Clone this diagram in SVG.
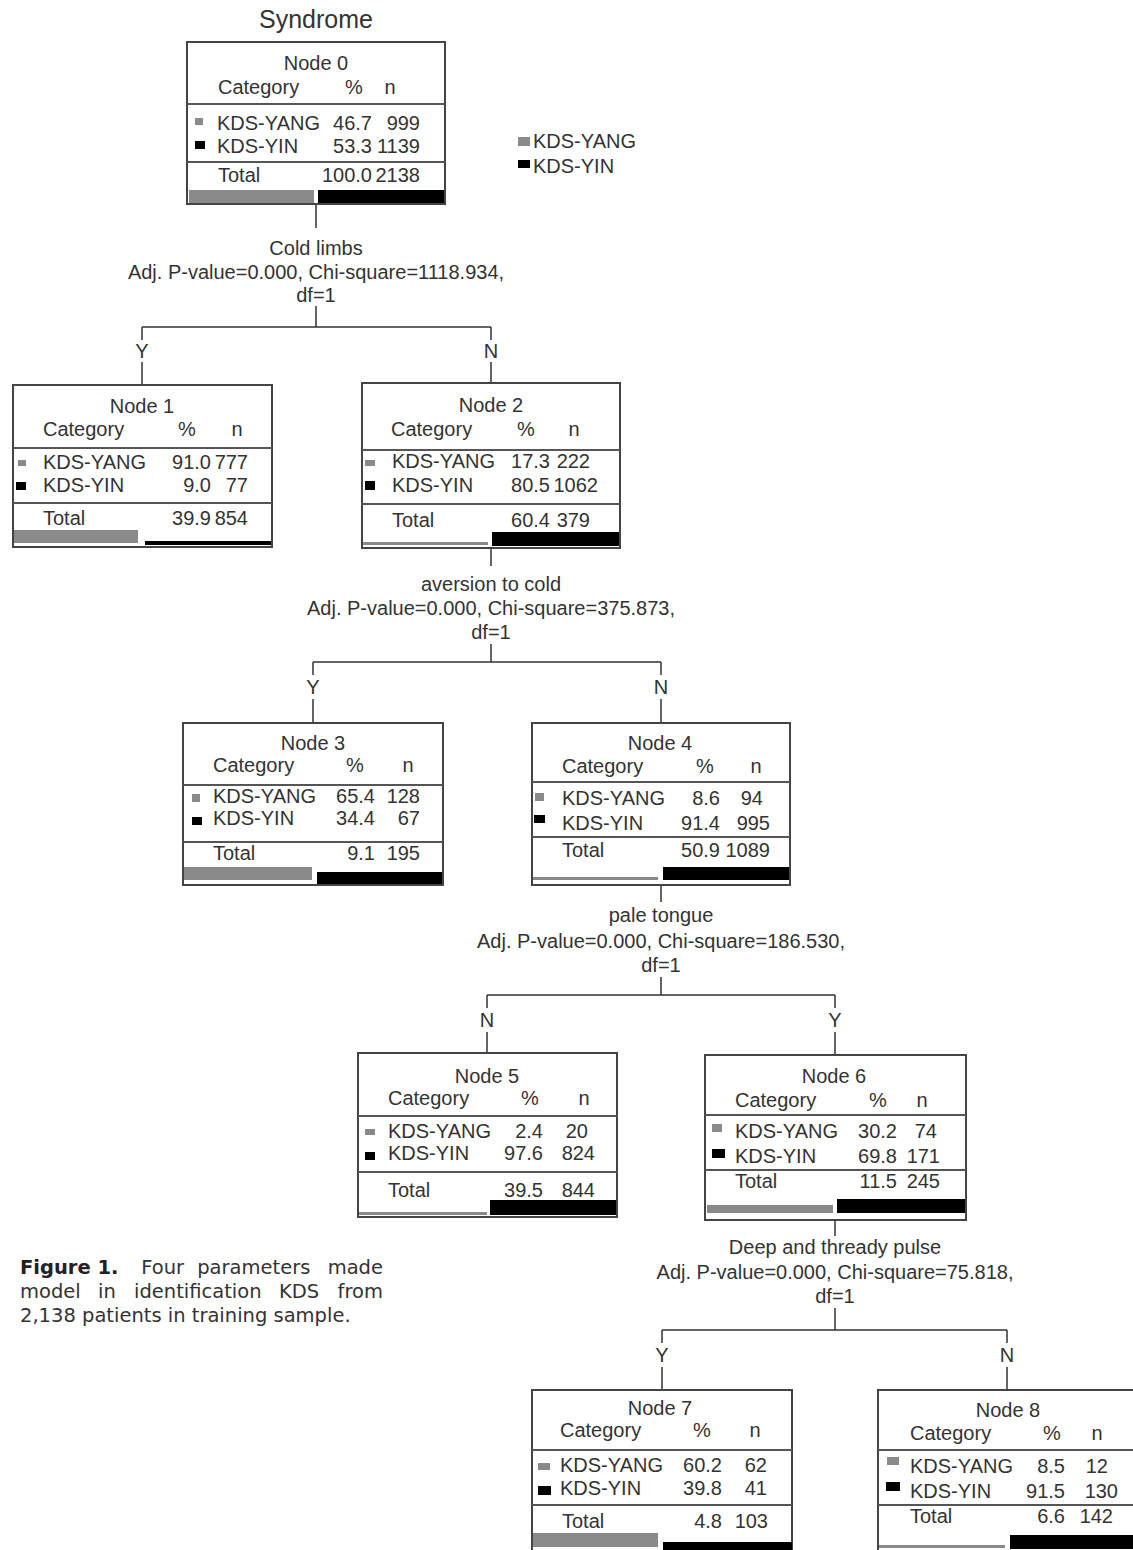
<svg xmlns="http://www.w3.org/2000/svg" width="1133" height="1550" viewBox="0 0 1133 1550">
<style>
.t{font-family:"Liberation Sans",Arial,sans-serif;font-size:20px;fill:#333}
.c{text-anchor:middle}
.r{text-anchor:end}
.box{fill:#fff;stroke:#444;stroke-width:2}
.sep{stroke:#555;stroke-width:2}
.conn{stroke:#333;stroke-width:1.5;fill:none}
.gy{fill:#8a8a8a}
.bk{fill:#000}
.cap{font-family:"DejaVu Sans","Liberation Sans",sans-serif;font-size:19.5px;fill:#333}
.capb{font-weight:bold;fill:#222}
</style>
<rect width="1133" height="1550" fill="#fff"/>
<text class="t c" x="316" y="28" style="font-size:25px">Syndrome</text>
<g id="legend">
<rect class="gy" x="518" y="137" width="12" height="9"/>
<text class="t" x="533" y="148">KDS-YANG</text>
<rect class="bk" x="518" y="160" width="12" height="8"/>
<text class="t" x="533" y="173">KDS-YIN</text>
</g>
<g id="connectors">
<path class="conn" d="M316 204V228M316 306V327M142 327H491M142 327V340M491 327V340M142 362V385M491 362V383"/>
<text class="t c" x="316" y="255">Cold limbs</text>
<text class="t c" x="316" y="279">Adj. P-value=0.000, Chi-square=1118.934,</text>
<text class="t c" x="316" y="302">df=1</text>
<text class="t c" x="142" y="358">Y</text>
<text class="t c" x="491" y="358">N</text>
<path class="conn" d="M491 548V566M491 644V662M313 662H661M313 662V675M661 662V675M313 699V723M661 699V723"/>
<text class="t c" x="491" y="591">aversion to cold</text>
<text class="t c" x="491" y="615">Adj. P-value=0.000, Chi-square=375.873,</text>
<text class="t c" x="491" y="639">df=1</text>
<text class="t c" x="313" y="694">Y</text>
<text class="t c" x="661" y="694">N</text>
<path class="conn" d="M661 885V902M661 977V995M487 995H835M487 995V1008M835 995V1008M487 1032V1053M835 1032V1055"/>
<text class="t c" x="661" y="922">pale tongue</text>
<text class="t c" x="661" y="948">Adj. P-value=0.000, Chi-square=186.530,</text>
<text class="t c" x="661" y="972">df=1</text>
<text class="t c" x="487" y="1027">N</text>
<text class="t c" x="835" y="1027">Y</text>
<path class="conn" d="M835 1220V1236M835 1308V1330M662 1330H1007M662 1330V1343M1007 1330V1343M662 1367V1390M1007 1367V1390"/>
<text class="t c" x="835" y="1254">Deep and thready pulse</text>
<text class="t c" x="835" y="1279">Adj. P-value=0.000, Chi-square=75.818,</text>
<text class="t c" x="835" y="1303">df=1</text>
<text class="t c" x="662" y="1362">Y</text>
<text class="t c" x="1007" y="1362">N</text>
</g>
<g id="node0">
<rect class="box" x="187" y="42" width="258" height="162"/>
<text class="t c" x="316" y="70">Node 0</text>
<text class="t" x="218" y="94">Category</text><text class="t c" x="354" y="94">%</text><text class="t c" x="390" y="94">n</text>
<line class="sep" x1="187" y1="104" x2="445" y2="104"/>
<rect class="gy" x="195" y="118" width="8" height="7"/>
<text class="t" x="217" y="130">KDS-YANG</text><text class="t r" x="372" y="130">46.7</text><text class="t r" x="420" y="130">999</text>
<rect class="bk" x="195" y="141" width="10" height="8"/>
<text class="t" x="217" y="153">KDS-YIN</text><text class="t r" x="372" y="153">53.3</text><text class="t r" x="420" y="153">1139</text>
<line class="sep" x1="187" y1="162" x2="445" y2="162"/>
<text class="t" x="218" y="182">Total</text><text class="t r" x="372" y="182">100.0</text><text class="t r" x="420" y="182">2138</text>
<rect class="gy" x="189" y="190" width="125" height="13"/>
<rect class="bk" x="318" y="190" width="126" height="13"/>
</g>
<g id="node1">
<rect class="box" x="13" y="385" width="259" height="162"/>
<text class="t c" x="142" y="413">Node 1</text>
<text class="t" x="43" y="436">Category</text><text class="t c" x="187" y="436">%</text><text class="t c" x="237" y="436">n</text>
<line class="sep" x1="13" y1="448" x2="272" y2="448"/>
<rect class="gy" x="18" y="460" width="8" height="6"/>
<text class="t" x="43" y="469">KDS-YANG</text><text class="t r" x="211" y="469">91.0</text><text class="t r" x="248" y="469">777</text>
<rect class="bk" x="16" y="482" width="10" height="8"/>
<text class="t" x="43" y="492">KDS-YIN</text><text class="t r" x="211" y="492">9.0</text><text class="t r" x="248" y="492">77</text>
<line class="sep" x1="13" y1="503" x2="272" y2="503"/>
<text class="t" x="43" y="525">Total</text><text class="t r" x="211" y="525">39.9</text><text class="t r" x="248" y="525">854</text>
<rect class="gy" x="14" y="530" width="124" height="13"/>
<rect class="bk" x="145" y="541" width="126" height="4"/>
</g>
<g id="node2">
<rect class="box" x="362" y="383" width="258" height="165"/>
<text class="t c" x="491" y="412">Node 2</text>
<text class="t" x="391" y="436">Category</text><text class="t c" x="526" y="436">%</text><text class="t c" x="574" y="436">n</text>
<line class="sep" x1="362" y1="450" x2="620" y2="450"/>
<rect class="gy" x="365" y="460" width="10" height="6"/>
<text class="t" x="392" y="468">KDS-YANG</text><text class="t r" x="550" y="468">17.3</text><text class="t r" x="590" y="468">222</text>
<rect class="bk" x="365" y="481" width="10" height="9"/>
<text class="t" x="392" y="492">KDS-YIN</text><text class="t r" x="550" y="492">80.5</text><text class="t r" x="598" y="492">1062</text>
<line class="sep" x1="362" y1="504" x2="620" y2="504"/>
<text class="t" x="392" y="527">Total</text><text class="t r" x="550" y="527">60.4</text><text class="t r" x="590" y="527">379</text>
<rect class="gy" x="363" y="542" width="125" height="3"/>
<rect class="bk" x="492" y="532" width="127" height="14"/>
</g>
<g id="node3">
<rect class="box" x="183" y="723" width="260" height="162"/>
<text class="t c" x="313" y="750">Node 3</text>
<text class="t" x="213" y="772">Category</text><text class="t c" x="355" y="772">%</text><text class="t c" x="408" y="772">n</text>
<line class="sep" x1="183" y1="785" x2="443" y2="785"/>
<rect class="gy" x="192" y="794" width="8" height="8"/>
<text class="t" x="213" y="803">KDS-YANG</text><text class="t r" x="375" y="803">65.4</text><text class="t r" x="420" y="803">128</text>
<rect class="bk" x="192" y="817" width="10" height="8"/>
<text class="t" x="213" y="825">KDS-YIN</text><text class="t r" x="375" y="825">34.4</text><text class="t r" x="420" y="825">67</text>
<line class="sep" x1="183" y1="842" x2="443" y2="842"/>
<text class="t" x="213" y="860">Total</text><text class="t r" x="375" y="860">9.1</text><text class="t r" x="420" y="860">195</text>
<rect class="gy" x="184" y="867" width="128" height="13"/>
<rect class="bk" x="317" y="872" width="125" height="12"/>
</g>
<g id="node4">
<rect class="box" x="532" y="723" width="258" height="162"/>
<text class="t c" x="660" y="750">Node 4</text>
<text class="t" x="562" y="773">Category</text><text class="t c" x="705" y="773">%</text><text class="t c" x="756" y="773">n</text>
<line class="sep" x1="532" y1="782" x2="790" y2="782"/>
<rect class="gy" x="535" y="793" width="9" height="8"/>
<text class="t" x="562" y="805">KDS-YANG</text><text class="t r" x="720" y="805">8.6</text><text class="t r" x="763" y="805">94</text>
<rect class="bk" x="534" y="815" width="11" height="8"/>
<text class="t" x="562" y="830">KDS-YIN</text><text class="t r" x="720" y="830">91.4</text><text class="t r" x="770" y="830">995</text>
<line class="sep" x1="532" y1="837" x2="790" y2="837"/>
<text class="t" x="562" y="857">Total</text><text class="t r" x="720" y="857">50.9</text><text class="t r" x="770" y="857">1089</text>
<rect class="gy" x="533" y="877" width="125" height="3"/>
<rect class="bk" x="663" y="867" width="126" height="13"/>
</g>
<g id="node5">
<rect class="box" x="358" y="1053" width="259" height="164"/>
<text class="t c" x="487" y="1083">Node 5</text>
<text class="t" x="388" y="1105">Category</text><text class="t c" x="530" y="1105">%</text><text class="t c" x="584" y="1105">n</text>
<line class="sep" x1="358" y1="1116" x2="617" y2="1116"/>
<rect class="gy" x="365" y="1129" width="10" height="6"/>
<text class="t" x="388" y="1138">KDS-YANG</text><text class="t r" x="543" y="1138">2.4</text><text class="t r" x="588" y="1138">20</text>
<rect class="bk" x="365" y="1152" width="10" height="8"/>
<text class="t" x="388" y="1160">KDS-YIN</text><text class="t r" x="543" y="1160">97.6</text><text class="t r" x="595" y="1160">824</text>
<line class="sep" x1="358" y1="1172" x2="617" y2="1172"/>
<text class="t" x="388" y="1197">Total</text><text class="t r" x="543" y="1197">39.5</text><text class="t r" x="595" y="1197">844</text>
<rect class="gy" x="359" y="1212" width="128" height="3"/>
<rect class="bk" x="490" y="1200" width="126" height="15"/>
</g>
<g id="node6">
<rect class="box" x="705" y="1055" width="261" height="165"/>
<text class="t c" x="834" y="1083">Node 6</text>
<text class="t" x="735" y="1107">Category</text><text class="t c" x="878" y="1107">%</text><text class="t c" x="922" y="1107">n</text>
<line class="sep" x1="705" y1="1115" x2="966" y2="1115"/>
<rect class="gy" x="712" y="1124" width="10" height="8"/>
<text class="t" x="735" y="1138">KDS-YANG</text><text class="t r" x="897" y="1138">30.2</text><text class="t r" x="937" y="1138">74</text>
<rect class="bk" x="712" y="1149" width="13" height="9"/>
<text class="t" x="735" y="1163">KDS-YIN</text><text class="t r" x="897" y="1163">69.8</text><text class="t r" x="940" y="1163">171</text>
<line class="sep" x1="705" y1="1170" x2="966" y2="1170"/>
<text class="t" x="735" y="1188">Total</text><text class="t r" x="897" y="1188">11.5</text><text class="t r" x="940" y="1188">245</text>
<rect class="gy" x="707" y="1205" width="126" height="8"/>
<rect class="bk" x="837" y="1199" width="128" height="14"/>
</g>
<g id="node7">
<rect class="box" x="532" y="1390" width="260" height="170"/>
<text class="t c" x="660" y="1415">Node 7</text>
<text class="t" x="560" y="1437">Category</text><text class="t c" x="702" y="1437">%</text><text class="t c" x="755" y="1437">n</text>
<line class="sep" x1="532" y1="1450" x2="792" y2="1450"/>
<rect class="gy" x="538" y="1463" width="12" height="7"/>
<text class="t" x="560" y="1472">KDS-YANG</text><text class="t r" x="722" y="1472">60.2</text><text class="t r" x="767" y="1472">62</text>
<rect class="bk" x="538" y="1486" width="13" height="9"/>
<text class="t" x="560" y="1495">KDS-YIN</text><text class="t r" x="722" y="1495">39.8</text><text class="t r" x="767" y="1495">41</text>
<line class="sep" x1="532" y1="1505" x2="792" y2="1505"/>
<text class="t" x="562" y="1528">Total</text><text class="t r" x="722" y="1528">4.8</text><text class="t r" x="768" y="1528">103</text>
<rect class="gy" x="533" y="1533" width="125" height="14"/>
<rect class="bk" x="663" y="1542" width="129" height="8"/>
</g>
<g id="node8">
<rect class="box" x="878" y="1390" width="260" height="170"/>
<text class="t c" x="1008" y="1417">Node 8</text>
<text class="t" x="910" y="1440">Category</text><text class="t c" x="1052" y="1440">%</text><text class="t c" x="1097" y="1440">n</text>
<line class="sep" x1="878" y1="1450" x2="1138" y2="1450"/>
<rect class="gy" x="887" y="1457" width="12" height="8"/>
<text class="t" x="910" y="1473">KDS-YANG</text><text class="t r" x="1065" y="1473">8.5</text><text class="t r" x="1108" y="1473">12</text>
<rect class="bk" x="886" y="1482" width="14" height="9"/>
<text class="t" x="910" y="1498">KDS-YIN</text><text class="t r" x="1065" y="1498">91.5</text><text class="t r" x="1118" y="1498">130</text>
<line class="sep" x1="878" y1="1505" x2="1138" y2="1505"/>
<text class="t" x="910" y="1523">Total</text><text class="t r" x="1065" y="1523">6.6</text><text class="t r" x="1113" y="1523">142</text>
<rect class="gy" x="879" y="1545" width="126" height="3"/>
<rect class="bk" x="1010" y="1535" width="130" height="14"/>
</g>
<g id="caption">
<text class="cap" y="1274"><tspan class="capb" x="20">Figure 1.</tspan><tspan x="135"> Four</tspan><tspan x="191"> parameters</tspan><tspan x="383" text-anchor="end">made</tspan></text>
<text class="cap" y="1298"><tspan x="20">model</tspan><tspan x="98">in</tspan><tspan x="134">identification</tspan><tspan x="279">KDS</tspan><tspan x="383" text-anchor="end">from</tspan></text>
<text class="cap" x="20" y="1322">2,138 patients in training sample.</text>
</g>
</svg>
